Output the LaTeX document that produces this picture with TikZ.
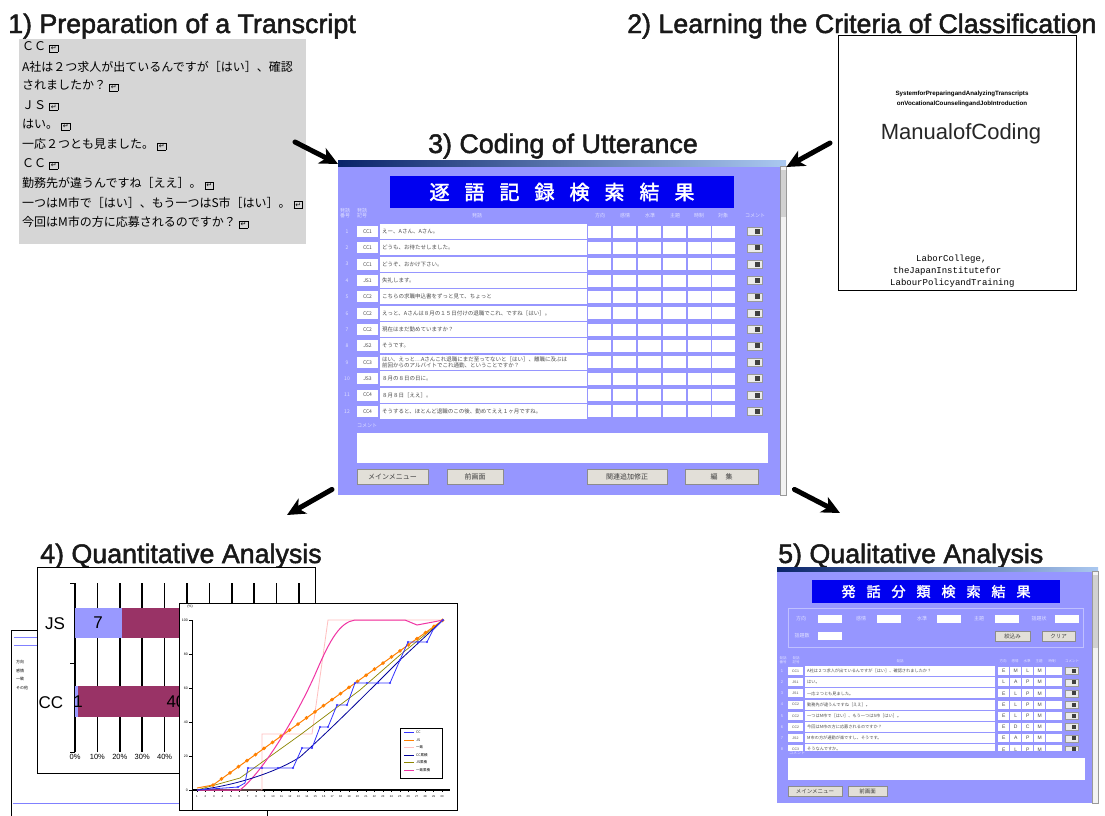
\documentclass[tikz,border=0pt]{standalone}
\usepackage{fontspec}
\setmainfont{Liberation Sans}
\newfontfamily\headfont[FakeBold=1.8]{Liberation Sans}
\newfontfamily\jp{Noto Sans CJK JP}
\newfontfamily\jpb[FakeBold=2]{Noto Sans CJK JP}
\newfontfamily\mono{Liberation Mono}
\newfontfamily\sym{DejaVu Sans}
\usetikzlibrary{arrows.meta}
\definecolor{scrbody}{RGB}{150,150,255}
\definecolor{scrhead}{RGB}{0,0,240}
\definecolor{navy}{RGB}{10,36,106}
\definecolor{ltitle}{RGB}{170,200,240}
\definecolor{btngray}{RGB}{226,223,216}
\definecolor{grayback}{RGB}{214,214,214}
\definecolor{barlav}{RGB}{153,153,255}
\definecolor{barmar}{RGB}{153,51,102}
\newcommand\rmark{\kern3pt{\fboxsep=1pt\fboxrule=0.7pt\fbox{\sym\fontsize{7}{7}\selectfont ↵}}}
\newcommand\gap{\hspace{15pt}}
\newcommand\sgap{\hspace{11pt}}

\begin{document}
\begin{tikzpicture}[x=1pt,y=-1pt,
  headline/.style={font=\headfont\fontsize{26.8}{26.8}\selectfont, text=black!90, inner sep=0, anchor=base west},
  jline/.style={font=\jp\fontsize{12}{12}\selectfont, inner sep=0, anchor=west},
  nwbox/.style={inner sep=0, anchor=north west},
  wbox/.style={fill=white, inner sep=0, font=\jp\fontsize{5}{5}\selectfont, text=black!70},
  pale/.style={inner sep=0, text=white!70!scrbody, font=\jp\fontsize{5}{5.5}\selectfont, align=center},
  btn/.style={fill=btngray, draw=black!45, inner sep=0, font=\jp\fontsize{7}{7}\selectfont, text=black!75},
  pick/.style={fill=black!8, draw=black!40, inner sep=0},
  ticklab/.style={inner sep=0, font=\fontsize{3.5}{4}\selectfont},
  bigarrow/.style={line width=5pt, line cap=round, -{Stealth[length=18pt,width=17pt,inset=5pt]}},
]
\useasboundingbox (0,0) rectangle (1105,815);
\fill[white] (0,0) rectangle (1105,815);

% 1) transcript
\node[headline] (t1) at (8,33) {1) Preparation of a Transcript};
\node[nwbox, fill=grayback, minimum width=287, minimum height=205] (trans) at (19,39) {};
\foreach \t [count=\i] in {ＣＣ\rmark, A社は２つ求人が出ているんですが［はい］、確認, されましたか？\rmark, ＪＳ\rmark, はい。\rmark, 一応２つとも見ました。\rmark, ＣＣ\rmark, 勤務先が違うんですね［ええ］。\rmark, 一つはM市で［はい］、もう一つはS市［はい］。\rmark, 今回はM市の方に応募されるのですか？\rmark}
  { \node[jline] (tl\i) at (22,{47+(\i-1)*19.5}) {\t}; }

% 2) manual
\node[headline] (t2) at (627,33) {2) Learning the Criteria of Classification};
\node[nwbox, draw, line width=1pt, minimum width=238, minimum height=255] (manual) at (838,35) {};
\node[inner sep=0, font=\fontsize{6.2}{7}\selectfont\bfseries] (msys1) at (962,94) {SystemforPreparingandAnalyzingTranscripts};
\node[inner sep=0, font=\fontsize{6.2}{7}\selectfont\bfseries] (msys2) at (962,104) {onVocationalCounselingandJobIntroduction};
\node[inner sep=0, font=\fontsize{22}{22}\selectfont, text=black!85] (mtitle) at (961,134) {ManualofCoding};
\node[inner sep=0, anchor=west, font=\mono\fontsize{9}{9}\selectfont] (mlab1) at (916,259) {LaborCollege,};
\node[inner sep=0, anchor=west, font=\mono\fontsize{9}{9}\selectfont] (mlab2) at (893,271) {theJapanInstitutefor};
\node[inner sep=0, anchor=west, font=\mono\fontsize{9}{9}\selectfont] (mlab3) at (890,283) {LabourPolicyandTraining};

% 3) coding screen
\node[headline] (t3) at (428,153) {3) Coding of Utterance};
\node[nwbox, fill=scrbody, minimum width=448, minimum height=335] (scr) at (338,160) {};
\shade[left color=navy, right color=ltitle] (338,160) rectangle (786,166);
\draw[fill=black!5, draw=black!40] (780,166) rectangle (786,495);
\fill[black!18] (780.5,170) rectangle (785.5,217);
\node[fill=scrhead, minimum width=344, minimum height=32, inner sep=0, text=white, font=\jpb\fontsize{20}{20}\selectfont] (scrhd) at (562,192) {逐\gap{}語\gap{}記\gap{}録\gap{}検\gap{}索\gap{}結\gap{}果};
\node[pale] (hno) at (345,213) {発話\\番号};
\node[pale] (hsp) at (362,213) {発話\\記号};
\node[pale] (htx) at (477,216) {発話};
\foreach \h/\x [count=\j] in {方向/600,感情/625,水準/650,主題/675,時制/699,対象/723}
  { \node[pale] (hc\j) at (\x,216) {\h}; }
\node[pale] (hcm) at (755,216) {コメント};
\foreach \i/\c/\t in {1/CC1/えー、Aさん、Aさん。, 2/CC1/どうも、お待たせしました。, 3/CC1/どうぞ、おかけ下さい。, 4/JS1/失礼します。, 5/CC2/こちらの求職申込書をずっと見て、ちょっと, 6/CC2/えっと、Aさんは８月の１５日付けの退職でこれ、ですね［はい］。, 7/CC2/現在はまだ勤めていますか？, 8/JS2/そうです。, 9/CC3/{はい、えっと…Aさんこれ退職にまだ至ってないと［はい］、離職に及ぶは\\前回からのアルバイトでこれ通勤、ということですか？}, 10/JS3/８月の８日の日に。, 11/CC4/８月８日［ええ］。, 12/CC4/そうすると、ほとんど退職のこの後、勤めてええ１ヶ月ですね。}
{
  \pgfmathsetmacro\y{231.5+(\i-1)*16.35}
  \node[pale] (cn\i) at (347,\y) {\i};
  \node[wbox, minimum width=21, minimum height=11] (cc\i) at (367.5,\y) {\c};
  \node[wbox, anchor=west, text width=203, inner xsep=2, minimum height=15, align=left, font=\jp\fontsize{5.5}{6}\selectfont] (ct\i) at (380,\y) {\t};
  \foreach \x [count=\j] in {588,613,638,663,688,712}
    { \node[wbox, anchor=west, minimum width=23, minimum height=12] (cb\i-\j) at (\x,\y) {}; }
  \node[pick, minimum width=15, minimum height=8] (cbt\i) at (754.5,\y) {};
  \fill[black!75] ([xshift=-2]cbt\i.east) ++(0,-2.5) rectangle ++(-5,5);
}
\node[pale, anchor=west] (cml) at (357,426) {コメント};
\node[nwbox, fill=white, minimum width=411, minimum height=30] (cmt) at (357,433) {};
\node[btn, minimum width=71, minimum height=15] (b1) at (392.5,476.5) {メインメニュー};
\node[btn, minimum width=56, minimum height=15] (b2) at (475,476.5) {前画面};
\node[btn, minimum width=80, minimum height=15] (b3) at (627,476.5) {関連追加修正};
\node[btn, minimum width=73, minimum height=15] (b4) at (721.5,476.5) {編\hspace{8pt}集};

% arrows
\coordinate (a1) at (295,142);
\coordinate (a2) at (830,143);
\coordinate (a3) at (287,515);
\coordinate (a4) at (840,513);
\draw[bigarrow] (a1) -- ([shift={(0,4)}]scr.north west);
\draw[bigarrow] (a2) -- ([shift={(0,7)}]scr.north east);
\draw[bigarrow] ([shift={(-6,-6)}]scr.south west) -- (a3);
\draw[bigarrow] ([shift={(8,-6)}]scr.south east) -- (a4);

% 4) quantitative
\node[headline] (t4) at (40,563) {4) Quantitative Analysis};
\draw[fill=white, line width=1pt] (11,630) rectangle (267,830);
\draw[blue!50, line width=1pt] (14,637) -- (37,637) (14,645) -- (37,645) (13,803) -- (180,803);
\foreach \t [count=\i] in {方向,感情,一致,その他}
  { \node[ticklab, anchor=west, font=\jp\fontsize{4}{4}\selectfont] (bw\i) at (16,{662+(\i-1)*8.5}) {\t}; }
\node[nwbox, draw, fill=white, line width=1.2pt, minimum width=278, minimum height=206] (bars) at (37,567) {};
\foreach \k in {0,...,10} { \draw[line width=1.5pt] ({75+\k*22.4},583) -- ({75+\k*22.4},752); }
\foreach \yy in {583,663,752} { \draw[line width=1pt] (70,\yy) -- (75,\yy); }
\fill[barlav] (75,608) rectangle (122,638);
\fill[barmar] (122,608) rectangle (300,638);
\fill[barlav] (75,686) rectangle (78,717);
\fill[barmar] (78,686) rectangle (300,717);
\node[inner sep=0, font=\fontsize{17}{17}\selectfont] (ljs) at (55,624) {JS};
\node[inner sep=0, font=\fontsize{17}{17}\selectfont] (lcc) at (51,703) {CC};
\node[inner sep=0, font=\fontsize{17}{17}\selectfont] (vjs) at (98,623) {7};
\node[inner sep=0, font=\fontsize{17}{17}\selectfont] (vcc) at (78,702) {1};
\node[inner sep=0, font=\fontsize{17}{17}\selectfont] (vcc2) at (176,702) {40};
\foreach \p [count=\k from 0] in {0\%,10\%,20\%,30\%,40\%}
  { \node[inner sep=0, font=\fontsize{7.5}{7.5}\selectfont] (bl\k) at ({75+\k*22.4},757) {\p}; }

% line chart
\node[nwbox, draw, fill=white, line width=1.2pt, minimum width=278, minimum height=207] (lines) at (179,603) {};
\draw[line width=0.8pt] (192,620) -- (192,810);
\draw[line width=1.2pt] (192,790) -- (450,790);
\foreach \k in {1,...,30} {
  \draw[line width=0.5pt] ({197+(\k-1)*8.45},790) -- ({197+(\k-1)*8.45},792);
  \node[ticklab, font=\fontsize{2.8}{3}\selectfont] (xl\k) at ({197+(\k-1)*8.45},797) {\k};
}
\foreach \v [count=\k from 0] in {0,20,40,60,80,100} {
  \draw[line width=0.5pt] (189,{790-\k*34}) -- (192,{790-\k*34});
  \node[ticklab, anchor=east] (yl\k) at (188,{790-\k*34}) {\v};
}
\node[ticklab] (ypc) at (190,607) {(\%)};
\draw[pink, line width=0.8pt] (197,790) -- (262,790) -- (262,734) -- (312,734) -- (328,620) -- (443,620);
\draw[olive, line width=0.7pt] (197,790) -- (240,778) -- (300,735) -- (360,690) -- (400,655) -- (443,620);
\draw[orange, line width=1pt] (197,788) -- (213,785) -- (443,620);
\foreach \k in {0,...,27} {
  \pgfmathsetmacro\xx{213+\k*8.5}
  \pgfmathsetmacro\yy{785-(\xx-213)*0.7174}
  \fill[orange] (\xx,\yy-2) -- (\xx+2,\yy) -- (\xx,\yy+2) -- (\xx-2,\yy) -- cycle;
}
\draw[magenta!80, line width=1pt] (197,790) -- (240,790) .. controls (265,770) and (300,710) .. (317,670) .. controls (330,640) and (340,622) .. (355,620) -- (405,620) -- (417,625) -- (433,622) -- (443,620);
\draw[blue!60!black, line width=0.8pt] (197,790) .. controls (240,785) and (280,770) .. (300,757) .. controls (330,730) and (370,690) .. (400,660) -- (443,620);
\draw[blue!80, line width=0.8pt] (197,790) -- (238,787) -- (245,783) -- (248,768) -- (293,768) -- (302,748) -- (312,748) -- (320,727) -- (328,727) -- (337,705) -- (347,705) -- (355,683) -- (390,683) -- (400,660) -- (408,642) -- (427,642) -- (433,630) -- (443,620);
\foreach \p in {(238,787),(248,768),(262,768),(278,768),(293,768),(302,748),(312,748),(320,727),(328,727),(337,705),(347,705),(355,683),(367,683),(378,683),(390,683),(400,660),(408,642),(418,642),(427,642),(443,620)}
  { \fill[blue!80] \p circle (1.1); }
\node[nwbox, draw, fill=white, line width=0.6pt, minimum width=42, minimum height=50] (leg) at (400,728) {};
\foreach \c/\t [count=\k] in {blue!80/CC,orange/JS,pink/一致,blue!60!black/CC累積,olive/JS累積,magenta!80/一致累積} {
  \draw[\c, line width=0.8pt] (404,{725+\k*7.5}) -- (414,{725+\k*7.5});
  \node[ticklab, anchor=west, font=\jp\fontsize{3.5}{4}\selectfont] (lg\k) at (416,{725+\k*7.5}) {\t};
}

% 5) qualitative screen
\node[headline] (t5) at (778,563) {5) Qualitative Analysis};
\node[nwbox, fill=scrbody, minimum width=321, minimum height=236] (qscr) at (777,567) {};
\shade[left color=navy, right color=ltitle] (777,567) rectangle (1098,571);
\draw[fill=black!5, draw=black!40] (1092,571) rectangle (1098,803);
\fill[black!18] (1092.5,575) rectangle (1097.5,648);
\node[fill=scrhead, minimum width=248, minimum height=23, inner sep=0, text=white, font=\jpb\fontsize{14}{14}\selectfont] (qhd) at (936,591.5) {発\sgap{}話\sgap{}分\sgap{}類\sgap{}検\sgap{}索\sgap{}結\sgap{}果};
\draw[white!40!scrbody, line width=0.8pt] (788,608) rectangle (1083,647);
\foreach \h/\lx/\fx [count=\j] in {方向/801/818,感情/861/877,水準/922/937,主題/979/995,話題状/1039/1055} {
  \node[pale] (qf\j) at (\lx,619) {\h};
  \node[nwbox, fill=white, minimum width=24, minimum height=8] (qv\j) at (\fx,615) {};
}
\node[pale] (qf6) at (802,636) {話題数};
\node[nwbox, fill=white, minimum width=24, minimum height=8] (qv6) at (818,632) {};
\node[btn, minimum width=35, minimum height=10, font=\jp\fontsize{5.5}{5.5}\selectfont] (qb1) at (1012.5,636) {絞込み};
\node[btn, minimum width=33, minimum height=10, font=\jp\fontsize{5.5}{5.5}\selectfont] (qb2) at (1058.5,636) {クリア};
\node[pale, font=\jp\fontsize{3.5}{4}\selectfont] (qhno) at (783,660) {発話\\番号};
\node[pale, font=\jp\fontsize{3.5}{4}\selectfont] (qhsp) at (796,660) {発話\\記号};
\node[pale, font=\jp\fontsize{3.5}{4}\selectfont] (qhtx) at (900,661) {発話};
\foreach \h/\x [count=\j] in {方向/1003,感情/1015,水準/1027,主題/1039,時制/1052}
  { \node[pale, font=\jp\fontsize{3.5}{4}\selectfont] (qhc\j) at (\x,661) {\h}; }
\node[pale, font=\jp\fontsize{3.5}{4}\selectfont] (qhcm) at (1072,661) {コメント};
\begin{scope}
\clip (777,560) rectangle (1092,750);
\foreach \i/\c/\t/\la/\lb/\lc/\ld in {1/CC1/A社は２つ求人が出ているんですが［はい］、確認されましたか？/E/M/L/M, 2/JS1/はい。/L/A/P/M, 3/JS1/一応２つとも見ました。/E/L/P/M, 4/CC2/勤務先が違うんですね［ええ］。/E/L/P/M, 5/CC2/一つはM市で［はい］、もう一つはS市［はい］。/E/L/P/M, 6/CC2/今回はM市の方に応募されるのですか？/E/D/C/M, 7/JS2/M市の方が通勤が楽ですし、そうです。/E/A/P/M, 8/CC3/そうなんですか。/E/L/P/M}
{
  \pgfmathsetmacro\y{671+(\i-1)*11.2}
  \node[pale, font=\fontsize{4}{4}\selectfont] (qn\i) at (782,\y) {\i};
  \node[wbox, minimum width=15, minimum height=8, font=\fontsize{3.5}{4}\selectfont] (qc\i) at (795.5,\y) {\c};
  \node[wbox, anchor=west, text width=186, inner xsep=2, minimum height=10, align=left, font=\jp\fontsize{4.2}{4.5}\selectfont] (qt\i) at (805,\y) {\t};
  \foreach \x/\l [count=\j] in {998/\la,1010/\lb,1022/\lc,1034/\ld}
    { \node[wbox, anchor=west, minimum width=11, minimum height=8, font=\fontsize{5}{5}\selectfont] (qk\i-\j) at (\x,\y) {\l}; }
  \node[wbox, anchor=west, minimum width=16, minimum height=8] (qk\i-5) at (1046,\y) {};
  \node[pick, minimum width=13, minimum height=7] (qbt\i) at (1071.5,\y) {};
  \fill[black!75] ([xshift=-2]qbt\i.east) ++(0,-2) rectangle ++(-4,4);
}
\end{scope}
\node[pale, anchor=west, font=\jp\fontsize{4}{4}\selectfont] (qcml) at (789,753) {コメント};
\node[nwbox, fill=white, minimum width=297, minimum height=22] (qcmt) at (788,758) {};
\node[btn, minimum width=54, minimum height=10, font=\jp\fontsize{5.5}{5.5}\selectfont] (qb3) at (815,791) {メインメニュー};
\node[btn, minimum width=39, minimum height=10, font=\jp\fontsize{5.5}{5.5}\selectfont] (qb4) at (867.5,791) {前画面};
\end{tikzpicture}
\end{document}
